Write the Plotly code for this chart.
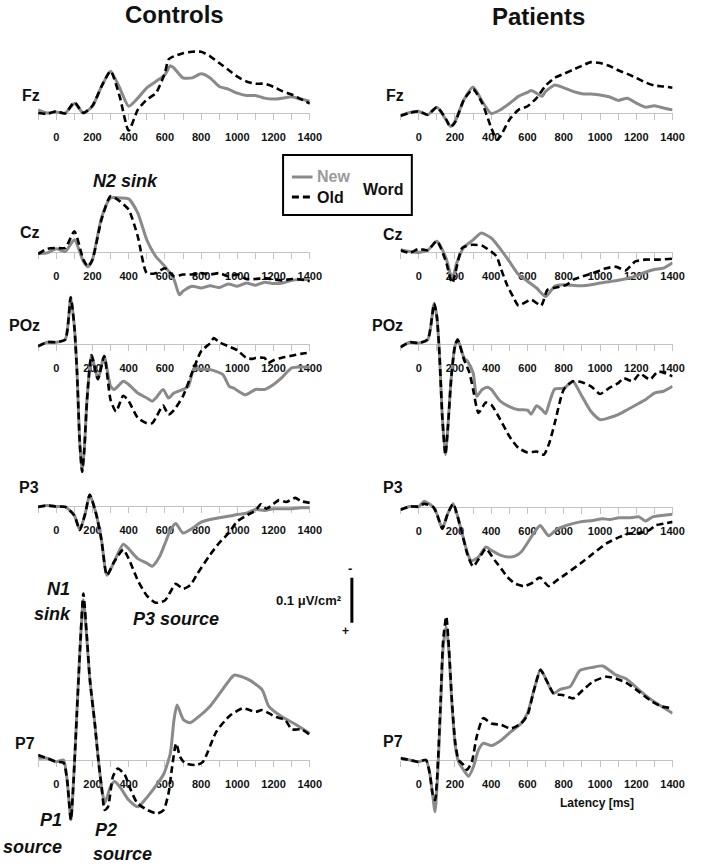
import plotly.graph_objects as go

W, H = 701, 868
SCALE = 450.0  # pixels per 1 uV/cm^2 (scale bar 0.1 uV/cm^2 = 45 px), negative plotted upward

# ---------------- data (latency ms, CSD amplitude uV/cm^2) ----------------
# Fz
t_fz_ctl_new = [-100,-50,0,50,100,150,200,250,300,350,400,450,500,550,600,630,650,700,750,800,850,900,950,1000,1050,1100,1150,1200,1250,1300,1350,1400]
fz_ctl_new = [-0.007,0,-0.002,0,-0.021,0,-0.015,-0.059,-0.093,-0.056,-0.015,-0.033,-0.056,-0.070,-0.085,-0.105,-0.100,-0.078,-0.078,-0.087,-0.078,-0.059,-0.053,-0.044,-0.039,-0.039,-0.033,-0.031,-0.033,-0.036,-0.031,-0.026]
t_fz_ctl_old = [-100,-50,0,50,100,150,200,250,300,350,400,450,500,550,600,620,650,700,750,800,850,900,950,1000,1050,1100,1150,1200,1250,1300,1350,1400]
fz_ctl_old = [0,0.002,-0.004,0.001,-0.024,0,-0.016,-0.059,-0.093,-0.037,0.039,-0.007,-0.030,-0.044,-0.089,-0.119,-0.126,-0.133,-0.136,-0.136,-0.126,-0.111,-0.096,-0.081,-0.070,-0.065,-0.065,-0.058,-0.048,-0.041,-0.031,-0.021]
t_fz_pat_new = [-100,-50,0,50,100,150,175,200,250,300,350,400,450,500,550,600,620,650,680,700,750,800,850,900,950,1000,1050,1100,1150,1200,1250,1300,1350,1400]
fz_pat_new = [0.006,-0.001,-0.004,0.004,-0.013,0.015,0.030,0.019,-0.030,-0.058,-0.026,0.001,-0.007,-0.021,-0.037,-0.046,-0.050,-0.044,-0.037,-0.048,-0.062,-0.056,-0.048,-0.043,-0.042,-0.040,-0.036,-0.028,-0.033,-0.022,-0.013,-0.016,-0.011,-0.007]
t_fz_pat_old = [-100,-50,0,50,100,150,175,200,250,300,350,400,430,450,500,550,600,650,700,750,800,850,900,950,1000,1050,1100,1150,1200,1250,1300,1350,1400]
fz_pat_old = [0.006,0,-0.004,0.004,-0.013,0.013,0.031,0.021,-0.030,-0.053,-0.022,0.033,0.059,0.052,0.015,-0.007,-0.015,-0.033,-0.061,-0.078,-0.087,-0.096,-0.105,-0.113,-0.111,-0.105,-0.095,-0.087,-0.078,-0.068,-0.061,-0.059,-0.056]

# Cz
t_cz_ctl_new = [-100,-50,0,50,100,150,175,200,250,300,350,400,450,500,550,600,650,680,700,750,800,850,900,950,1000,1050,1100,1150,1200,1250,1300,1350,1400]
cz_ctl_new = [0.004,0.002,-0.007,-0.001,-0.027,0.021,0.033,0.017,-0.076,-0.120,-0.120,-0.118,-0.087,-0.027,0.010,0.032,0.061,0.095,0.087,0.076,0.080,0.075,0.079,0.071,0.076,0.069,0.074,0.067,0.070,0.069,0.063,0.061,0.061]
t_cz_ctl_old = [-100,-50,0,50,100,150,175,200,250,300,350,400,450,500,550,600,650,700,750,800,850,900,950,1000,1050,1100,1150,1200,1250,1300,1350,1400]
cz_ctl_old = [0.004,-0.007,-0.009,-0.009,-0.046,0.017,0.032,0.017,-0.072,-0.124,-0.113,-0.094,-0.035,0.047,0.047,0.036,0.054,0.050,0.050,0.047,0.050,0.047,0.054,0.050,0.060,0.060,0.058,0.061,0.063,0.060,0.061,0.065]
t_cz_pat_new = [-100,-50,0,50,100,150,185,210,250,300,345,400,450,500,550,600,650,700,750,800,850,900,950,1000,1050,1100,1150,1200,1250,1300,1350,1400]
cz_pat_new = [-0.005,-0.001,0.001,-0.004,-0.024,0.013,0.061,0.024,-0.011,-0.027,-0.042,-0.031,-0.007,0.021,0.050,0.065,0.080,0.099,0.076,0.073,0.074,0.075,0.073,0.069,0.066,0.063,0.059,0.053,0.045,0.039,0.036,0.024]
t_cz_pat_old = [-100,-50,0,50,100,150,185,240,295,350,400,430,455,490,520,550,620,675,710,745,815,855,905,960,1035,1090,1140,1195,1250,1320,1400]
cz_pat_old = [-0.004,0.002,-0.007,-0.004,-0.024,0.021,0.069,-0.009,-0.016,-0.014,-0.001,0.010,0.039,0.076,0.099,0.119,0.106,0.119,0.084,0.080,0.073,0.061,0.054,0.047,0.036,0.033,0.041,0.021,0.017,0.017,0.015]

# POz
t_poz_ctl_new = [-100,-50,0,50,80,100,115,130,143,155,170,195,230,265,300,320,350,370,400,450,500,530,550,590,620,650,700,730,760,800,850,920,955,980,1045,1100,1150,1200,1250,1300,1350,1400]
poz_ctl_new = [0.005,-0.004,-0.004,-0.010,-0.104,-0.039,0.064,0.220,0.284,0.235,0.124,0.025,0.078,0.027,0.094,0.101,0.090,0.083,0.090,0.109,0.120,0.127,0.120,0.101,0.120,0.109,0.101,0.094,0.055,0.056,0.057,0.068,0.094,0.098,0.113,0.101,0.101,0.090,0.073,0.053,0.051,0.051]
t_poz_ctl_old = [-100,-50,0,50,80,100,115,130,143,155,170,195,230,265,300,330,370,400,450,500,530,550,590,620,650,700,750,800,850,870,900,950,1000,1050,1080,1100,1150,1170,1200,1250,1300,1350,1400]
poz_ctl_old = [0.005,-0.004,-0.004,-0.010,-0.104,-0.039,0.064,0.220,0.284,0.235,0.124,0.025,0.078,0.027,0.124,0.150,0.115,0.127,0.164,0.176,0.176,0.164,0.137,0.157,0.147,0.116,0.064,0.016,-0.002,-0.013,-0.004,0.005,0.014,0.031,0.033,0.031,0.031,0.042,0.036,0.030,0.026,0.022,0.019]
t_poz_pat_new = [-100,-50,0,50,85,100,115,130,147,160,180,200,215,250,270,300,320,350,380,400,450,500,550,600,620,650,680,700,720,750,800,850,870,900,950,1000,1050,1100,1150,1200,1250,1300,1350,1400]
poz_pat_new = [0.007,-0.004,-0.002,-0.010,-0.090,-0.061,0.027,0.161,0.246,0.190,0.072,0.005,-0.010,0.031,0.039,0.064,0.116,0.101,0.096,0.101,0.127,0.139,0.146,0.147,0.156,0.137,0.146,0.155,0.131,0.100,0.098,0.083,0.094,0.116,0.150,0.168,0.164,0.157,0.146,0.135,0.124,0.109,0.105,0.094]
t_poz_pat_old = [-100,-50,0,50,85,100,115,130,147,160,180,200,215,250,280,300,330,370,400,450,500,550,600,650,690,720,750,800,850,900,950,1000,1050,1100,1130,1180,1220,1275,1320,1400]
poz_pat_old = [0.007,-0.004,-0.002,-0.010,-0.090,-0.061,0.027,0.161,0.246,0.190,0.072,0.005,-0.010,0.035,0.064,0.101,0.153,0.130,0.135,0.168,0.205,0.231,0.241,0.239,0.246,0.220,0.176,0.101,0.083,0.085,0.094,0.111,0.098,0.087,0.076,0.083,0.066,0.079,0.061,0.072]

# P3
t_p3_ctl_new = [-100,-50,0,50,100,130,160,185,220,250,280,320,370,400,450,500,530,570,600,630,660,700,750,800,850,900,950,1000,1050,1100,1150,1200,1250,1300,1350,1400]
p3_ctl_new = [0.002,-0.001,0.001,0.002,0.021,0.053,0.017,-0.025,0.017,0.076,0.154,0.124,0.085,0.095,0.117,0.127,0.134,0.113,0.084,0.054,0.039,0.060,0.050,0.036,0.030,0.026,0.023,0.019,0.016,0.008,0.010,0.006,0.006,0.006,0.004,0.004]
t_p3_ctl_old = [-100,-50,0,50,100,130,160,185,220,250,280,320,370,400,450,500,550,600,630,660,700,740,780,850,900,950,1000,1050,1100,1130,1160,1200,1230,1270,1320,1350,1400]
p3_ctl_old = [0.002,-0.001,0.001,0.002,0.021,0.053,0.017,-0.025,0.017,0.076,0.154,0.124,0.097,0.117,0.165,0.199,0.215,0.210,0.191,0.173,0.184,0.176,0.150,0.108,0.082,0.061,0.034,0.021,0.010,-0.004,0.006,-0.005,-0.013,-0.009,-0.018,-0.011,-0.007]
t_p3_pat_new = [-100,-50,0,30,80,100,130,160,190,230,270,290,330,370,400,450,490,530,565,620,645,670,717,760,815,890,960,1015,1050,1105,1160,1215,1250,1290,1340,1400]
p3_pat_new = [0.006,-0.001,-0.001,-0.013,0,0.015,0.048,0.015,-0.007,0.044,0.104,0.120,0.111,0.089,0.096,0.107,0.111,0.109,0.100,0.067,0.052,0.041,0.064,0.050,0.041,0.033,0.030,0.026,0.028,0.024,0.024,0.022,0.031,0.022,0.019,0.016]
t_p3_pat_old = [-100,-50,0,30,80,100,130,160,190,230,270,300,335,370,420,455,490,530,580,620,668,717,762,815,890,960,1035,1105,1160,1215,1270,1305,1350,1400]
p3_pat_old = [0.006,-0.001,-0.001,-0.007,0,0.015,0.048,0.015,-0.007,0.044,0.107,0.132,0.113,0.093,0.119,0.137,0.156,0.170,0.176,0.170,0.157,0.176,0.163,0.148,0.126,0.104,0.081,0.067,0.059,0.058,0.052,0.041,0.037,0.033]

# P7
t_p7_ctl_new = [-100,-50,0,40,60,81,96,114,132,150,168,186,213,231,250,268,300,322,350,400,450,505,560,595,630,650,667,703,740,776,848,957,984,1065,1137,1174,1246,1318,1400]
p7_ctl_new = [-0.004,-0.004,0.004,0,0.044,0.133,0.044,-0.104,-0.252,-0.356,-0.274,-0.178,-0.081,-0.007,0.059,0.096,0.059,0.048,0.059,0.089,0.104,0.081,0.052,0.030,-0.015,-0.089,-0.122,-0.089,-0.083,-0.093,-0.119,-0.178,-0.189,-0.178,-0.156,-0.119,-0.096,-0.080,-0.059]
t_p7_ctl_old = [-100,-50,0,40,60,81,96,114,132,150,168,186,213,231,250,268,286,313,340,378,412,448,503,557,593,620,640,662,684,711,774,810,884,957,1029,1101,1137,1210,1264,1300,1354,1400]
p7_ctl_old = [-0.011,-0.004,0.004,0.006,0.044,0.133,0.044,-0.104,-0.252,-0.370,-0.281,-0.178,-0.081,-0.007,0.059,0.111,0.104,0.037,0.019,0.033,0.067,0.096,0.111,0.119,0.111,0.074,0.015,-0.037,-0.007,0.007,0.011,0.004,-0.063,-0.098,-0.115,-0.107,-0.111,-0.096,-0.089,-0.068,-0.068,-0.056]
t_p7_pat_new = [-100,-50,0,40,61,76,90,103,121,135,152,166,184,202,220,247,275,302,329,356,401,455,509,564,600,636,672,708,744,780,835,889,961,1015,1087,1142,1214,1286,1340,1400]
p7_pat_new = [-0.004,0,0.004,0,0.030,0.074,0.115,0.044,-0.119,-0.252,-0.296,-0.244,-0.119,-0.030,0.004,0.022,0.036,0.015,-0.022,-0.037,-0.032,-0.044,-0.063,-0.081,-0.104,-0.156,-0.201,-0.174,-0.148,-0.157,-0.163,-0.199,-0.206,-0.209,-0.189,-0.181,-0.156,-0.133,-0.119,-0.104]
t_p7_pat_old = [-100,-50,0,40,61,76,90,103,121,135,152,166,184,202,220,247,266,293,320,356,401,455,509,564,600,636,672,708,744,798,853,907,961,1033,1087,1142,1214,1286,1340,1400]
p7_pat_old = [-0.004,0,0.004,0,0.030,0.074,0.089,0.030,-0.133,-0.267,-0.319,-0.252,-0.126,-0.037,0,0.011,0.022,0.004,-0.052,-0.093,-0.081,-0.078,-0.070,-0.081,-0.100,-0.156,-0.200,-0.174,-0.148,-0.144,-0.137,-0.156,-0.174,-0.185,-0.181,-0.172,-0.152,-0.130,-0.119,-0.115]

xtick_labels = ["0", "200", "400", "600", "800", "1000", "1200", "1400"]
xtick_vals = [0, 200, 400, 600, 800, 1000, 1200, 1400]

# ---------------- layout helpers ----------------
FONT = "Liberation Sans, Arial, Helvetica, sans-serif"
GRAY = "#8a8a8a"
AXIS_GRAY = "#c4c4c4"

# pixel x of 0 ms and 1400 ms for each column
COLS = {0: (57.2, 315.2), 1: (426.0, 684.3)}

panels = [
    ("Fz", 0, 113, t_fz_ctl_new, fz_ctl_new, t_fz_ctl_old, fz_ctl_old),
    ("Fz", 1, 113, t_fz_pat_new, fz_pat_new, t_fz_pat_old, fz_pat_old),
    ("Cz", 0, 252, t_cz_ctl_new, cz_ctl_new, t_cz_ctl_old, cz_ctl_old),
    ("Cz", 1, 252, t_cz_pat_new, cz_pat_new, t_cz_pat_old, cz_pat_old),
    ("POz", 0, 344, t_poz_ctl_new, poz_ctl_new, t_poz_ctl_old, poz_ctl_old),
    ("POz", 1, 344, t_poz_pat_new, poz_pat_new, t_poz_pat_old, poz_pat_old),
    ("P3", 0, 506, t_p3_ctl_new, p3_ctl_new, t_p3_ctl_old, p3_ctl_old),
    ("P3", 1, 507, t_p3_pat_new, p3_pat_new, t_p3_pat_old, p3_pat_old),
    ("P7", 0, 760, t_p7_ctl_new, p7_ctl_new, t_p7_ctl_old, p7_ctl_old),
    ("P7", 1, 760, t_p7_pat_new, p7_pat_new, t_p7_pat_old, p7_pat_old),
]
label_pos = {  # right edge x px, center y px
    ("Fz", 0): (43, 95), ("Fz", 1): (413, 95),
    ("Cz", 0): (43, 233), ("Cz", 1): (412, 234),
    ("POz", 0): (43, 325), ("POz", 1): (412, 325),
    ("P3", 0): (42, 487), ("P3", 1): (412, 487),
    ("P7", 0): (38, 743), ("P7", 1): (412, 741),
}

fig = go.Figure()
layout = {}
annotations = []


def ann(text, x, y, xanchor="center", size=16, italic=False, color="#111111", yanchor="middle"):
    annotations.append(dict(
        text=text, x=x / W, y=1 - y / H, xref="paper", yref="paper",
        xanchor=xanchor, yanchor=yanchor, showarrow=False,
        font=dict(family=FONT, size=size, color=color, weight="bold",
                  style="italic" if italic else "normal")))


for i, (name, col, zero, tn, vn, to, vo) in enumerate(panels, start=1):
    xa = "x" if i == 1 else f"x{i}"
    ya = "y" if i == 1 else f"y{i}"
    p0, p1400 = COLS[col]
    pxms = (p1400 - p0) / 1400.0
    left = p0 - 100 * pxms
    top = max(0, zero - 230)
    bot = min(H, zero + 230)
    fig.add_trace(go.Scatter(x=tn, y=vn, xaxis=xa, yaxis=ya, mode="lines",
                             name="New", showlegend=False, hoverinfo="skip",
                             line=dict(color=GRAY, width=3, shape="spline", smoothing=0.6)))
    fig.add_trace(go.Scatter(x=to, y=vo, xaxis=xa, yaxis=ya, mode="lines",
                             name="Old", showlegend=False, hoverinfo="skip",
                             line=dict(color="#000000", width=2.6, dash="7px,4px",
                                       shape="spline", smoothing=0.6)))
    layout["xaxis" if i == 1 else f"xaxis{i}"] = dict(
        domain=[left / W, p1400 / W], range=[-100, 1400], anchor="free",
        position=1 - zero / H, showgrid=False, zeroline=False,
        showline=True, linecolor=AXIS_GRAY, linewidth=1,
        tickmode="array", tickvals=xtick_vals, ticktext=xtick_labels,
        ticks="outside", ticklen=6, tickwidth=1, tickcolor=AXIS_GRAY,
        minor=dict(tickmode="array", tickvals=[-100, 100, 300, 500, 700, 900, 1100, 1300],
                   ticks="outside", ticklen=6, tickwidth=1, tickcolor=AXIS_GRAY),
        ticklabelstandoff=8,
        tickfont=dict(family=FONT, size=11, color="#111111", weight="bold"),
        layer="below traces", fixedrange=True)
    layout["yaxis" if i == 1 else f"yaxis{i}"] = dict(
        domain=[1 - bot / H, 1 - top / H],
        range=[(bot - zero) / SCALE, (top - zero) / SCALE],
        visible=False, anchor=xa, fixedrange=True)
    lx, ly = label_pos[(name, col)]
    ann(name, lx, ly, xanchor="right", size=16)

# titles
ann("Controls", 178, 15, size=24)
ann("Patients", 548, 16, size=24)

# component annotations
ann("N2 sink", 128, 181, size=18, italic=True)
ann("N1", 73, 589, xanchor="right", size=18, italic=True)
ann("sink", 74, 614, xanchor="right", size=18, italic=True)
ann("P3 source", 133, 619, xanchor="left", size=18, italic=True)
ann("P1", 65, 820, xanchor="right", size=18, italic=True)
ann("source", 65, 847, xanchor="right", size=18, italic=True)
ann("P2", 95, 830, xanchor="left", size=18, italic=True)
ann("source", 93, 854, xanchor="left", size=18, italic=True)

# axis title for latency
ann("Latency [ms]", 607, 803, size=12)

# scale bar text
ann("0.1 μV/cm²", 350, 600, xanchor="right", size=13)
ann("-", 356, 568, size=13)
ann("+", 352, 631, size=12)

# legend box (drawn)
shapes = [
    dict(type="rect", xref="paper", yref="paper", x0=288 / W, x1=419 / W,
         y0=1 - 215 / H, y1=1 - 155 / H, line=dict(color="#000000", width=2),
         fillcolor="rgba(0,0,0,0)"),
    dict(type="line", xref="paper", yref="paper", x0=297 / W, x1=318 / W,
         y0=1 - 177 / H, y1=1 - 177 / H, line=dict(color=GRAY, width=3)),
    dict(type="line", xref="paper", yref="paper", x0=297 / W, x1=318 / W,
         y0=1 - 197 / H, y1=1 - 197 / H, line=dict(color="#000000", width=3, dash="7px,4px")),
    # scale bar: 0.1 uV/cm^2 tied to the P7 (Controls) amplitude axis
    dict(type="line", xref="paper", yref="y9", x0=358 / W, x1=358 / W,
         y0=-0.405, y1=-0.305, line=dict(color="#000000", width=3)),
]
ann("New", 320, 177, xanchor="left", size=16, color="#9a9a9a")
ann("Old", 320, 197, xanchor="left", size=16)
ann("Word", 367, 189, xanchor="left", size=16)

fig.update_layout(
    width=W, height=H, autosize=False,
    margin=dict(l=0, r=0, t=0, b=0),
    paper_bgcolor="white", plot_bgcolor="rgba(0,0,0,0)",
    showlegend=False, annotations=annotations, shapes=shapes,
    font=dict(family=FONT),
    **layout)

fig.write_html("out.html",
               config={"displayModeBar": False, "staticPlot": True},
               post_script="document.body.style.margin='0';document.body.style.padding='0';document.body.style.overflow='hidden';")
